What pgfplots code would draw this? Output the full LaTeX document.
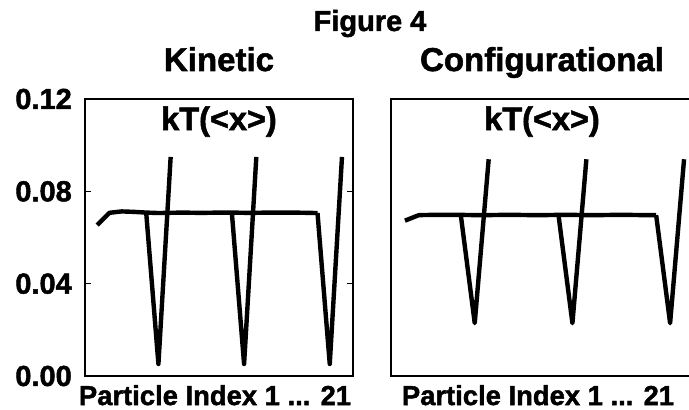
\documentclass[border=0pt]{standalone}
\usepackage{fontspec}
\setmainfont{Liberation Sans}[BoldFeatures={FakeBold=1.6}]
\usepackage{pgfplots}
\pgfplotsset{compat=1.18}
\tikzset{ln/.style={black, line width=4.4pt, line join=round, mark=none}}
\begin{document}
\begin{tikzpicture}
\path[use as bounding box] (-85pt,-34pt) rectangle (604pt,376pt);
\pgfplotsset{
  panel/.style={
    scale only axis, width=#1, height=277pt,
    ymin=0, ymax=0.12, xtick=\empty,
    axis line style={line width=2.6pt},
    title style={font=\bfseries\fontsize{33}{33}\selectfont, at={(0.5,1)}, anchor=base, yshift=22pt},
    xlabel style={font=\bfseries\fontsize{27.4}{28}\selectfont, at={(0.5,0)}, anchor=north, inner sep=0pt, yshift=-9pt, xshift=-4pt},
    xlabel={Particle Index 1 ... 21},
    clip=false,
  }
}
\begin{axis}[panel=268pt, at={(0pt,0pt)}, anchor=south west,
  xmin=0, xmax=21.9,
  title={Kinetic},
  ytick={0,0.04,0.08,0.12}, yticklabels={0.00,0.04,0.08,0.12},
  tick align=inside, major tick length=6pt,
  tick style={line width=1.5pt, black},
  yticklabel style={font=\bfseries\fontsize{29}{29}\selectfont, inner sep=0pt, anchor=east, xshift=-13pt},
]
\addplot[ln] coordinates {(1,0.0654)(2,0.0707)(3,0.0713)(4,0.0711)(5,0.0708)(6,0.0706)(7,0.0707)(8,0.0708)(9,0.0707)(10,0.0707)(11,0.0708)(12,0.0708)(13,0.0707)(14,0.0707)(15,0.0708)(16,0.0708)(17,0.0708)(18,0.0707)(19,0.0706)};
\addplot[ln] coordinates {(5,0.0708)(6,0.0052)(7,0.0949)};
\addplot[ln] coordinates {(12,0.0708)(13,0.0052)(14,0.0949)};
\addplot[ln] coordinates {(19,0.0706)(20,0.0052)(21,0.0949)};
\node[font=\bfseries\fontsize{32.5}{32}\selectfont, anchor=base] at (rel axis cs:0.5,1) [yshift=-31pt] {kT(<x>)};
\end{axis}
\begin{axis}[panel=302pt, at={(306pt,0pt)}, anchor=south west,
  xmin=0, xmax=21.64,
  title={Configurational},
  ytick=\empty,
]
\addplot[ln] coordinates {(1,0.0673)(2,0.0697)(3,0.0698)(4,0.0698)(5,0.0698)(6,0.0697)(7,0.0697)(8,0.0698)(9,0.0698)(10,0.0697)(11,0.0697)(12,0.0698)(13,0.0698)(14,0.0697)(15,0.0697)(16,0.0698)(17,0.0698)(18,0.0697)(19,0.0697)};
\addplot[ln] coordinates {(5,0.0698)(6,0.0229)(7,0.0939)};
\addplot[ln] coordinates {(12,0.0698)(13,0.0229)(14,0.0939)};
\addplot[ln] coordinates {(19,0.0697)(20,0.0229)(21,0.0939)};
\node[font=\bfseries\fontsize{32.5}{32}\selectfont, anchor=base] at (rel axis cs:0.5,1) [yshift=-31pt] {kT(<x>)};
\end{axis}
\node[font=\bfseries\fontsize{29}{29}\selectfont, anchor=base] at (285pt,345pt) {Figure 4};
\end{tikzpicture}
\end{document}
